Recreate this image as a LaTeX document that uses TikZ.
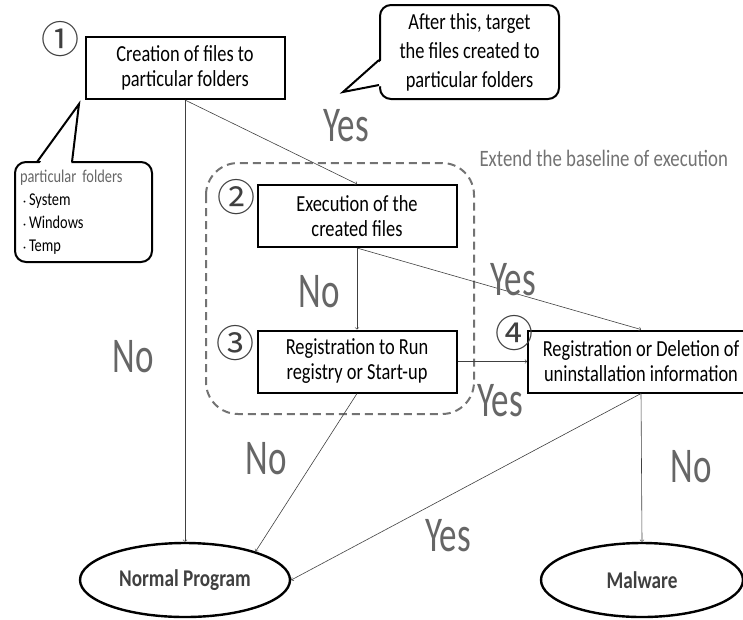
\documentclass[tikz,border=0pt]{standalone}
\usepackage{fontspec}
\setmainfont{Carlito}[FakeStretch=0.8]
\newfontfamily\tallfont{Carlito}[FakeStretch=0.7]
\newfontfamily\circfont{Noto Sans CJK JP}
\usetikzlibrary{shapes.geometric}

\begin{document}
\begin{tikzpicture}[x=1pt,y=-1pt,
  stepbox/.style={draw,line width=2pt,minimum width=199pt,minimum height=62pt,inner sep=0pt,align=center,font=\fontsize{23}{25}\selectfont},
  endnode/.style={draw,ellipse,line width=2.4pt,minimum width=210pt,minimum height=74pt,inner sep=0pt,text=black!75,font=\bfseries\fontsize{24}{26}\selectfont},
  answer/.style={text=black!60,font=\tallfont\fontsize{50}{52}\selectfont},
  num/.style={text=black!75,font=\circfont\fontsize{38}{40}\selectfont},
  flow/.style={->,black!75,line width=0.6pt},
  note/.style={draw,line width=2pt,rounded corners=11pt,inner sep=0pt,align=center}]
\useasboundingbox (0,0) rectangle (743,619);
\pgfmathsetmacro{\midx}{357}

% boxes
\node[stepbox] (create) at (185,68) {Creation of files to\\particular folders};
\node[stepbox] (exec) at (\midx,216) {Execution of the\\created files};
\node[stepbox] (reg) at (\midx,361.5) {Registration to Run\\registry or Start-up};
\node[stepbox,minimum width=226pt] (uninst) at (641,361.5) {Registration or Deletion of\\uninstallation information};
\node[endnode] (normal) at (185,580) {Normal Program};
\node[endnode,minimum width=202pt] (malware) at (642,580) {Malware};

% numbers
\node[num] (n1) at (60,39) {①};
\node[num] (n2) at (236,197) {②};
\node[num] (n3) at (235,343) {③};
\node[num] (n4) at (514,333) {④};

% baseline frame
\draw[black!55,line width=2pt,dash pattern=on 8pt off 5pt,rounded corners=32pt] (206,163) rectangle (474,414);
\node[text=black!55,font=\fontsize{23.5}{25}\selectfont,anchor=west] (extend) at (476,158) {Extend the baseline of execution};

% callouts
\node[note,minimum width=179pt,minimum height=94pt,font=\fontsize{23}{29}\selectfont] (target) at (469.5,52) {After this, target\\the files created to\\particular folders};
\coordinate (tipa) at (343,92);
\fill[white] ([yshift=-8pt,xshift=3pt]target.west) -- (tipa) -- ([yshift=-34pt,xshift=3pt]target.west) -- cycle;
\draw[line width=2pt,line join=miter] ([yshift=-8pt]target.west) -- (tipa) -- ([yshift=-33pt]target.west);

\node[note,minimum width=137pt,minimum height=100pt,text width=127pt,align=left,font=\fontsize{18}{23}\selectfont] (folders) at (83.5,212) {\textcolor{black!60}{particular folders}\\{\circfont\fontsize{9}{9}\selectfont ・}System\\{\circfont\fontsize{9}{9}\selectfont ・}Windows\\{\circfont\fontsize{9}{9}\selectfont ・}Temp};
\coordinate (tipb) at (79,104);
\fill[white] (38,166) -- (tipb) -- (71,166) -- cycle;
\draw[line width=2pt,line join=miter] (37,162) -- (tipb) -- (72,162);

% connectors
\draw[flow] (create.south) -- (normal.north);
\draw[flow] (create.south) -- (exec.north);
\draw[flow] (exec.south) -- (reg.north);
\draw[flow] (exec.south) -- (uninst.north);
\draw[flow] (reg.east) -- (uninst.west);
\draw[flow] (reg.south) -- (normal.22);
\draw[flow] (uninst.south) -- (normal.east);
\draw[flow] (uninst.south) -- (malware.north);

% answers
\node[answer] (yes1) at (346,126) {Yes};
\node[answer] (no1) at (133,357) {No};
\node[answer] (no2) at (319,292) {No};
\node[answer] (yes2) at (513,280) {Yes};
\node[answer] (yes3) at (500,401) {Yes};
\node[answer] (no3) at (266,459) {No};
\node[answer] (no4) at (691,467) {No};
\node[answer] (yes4) at (448,536) {Yes};
\end{tikzpicture}
\end{document}
